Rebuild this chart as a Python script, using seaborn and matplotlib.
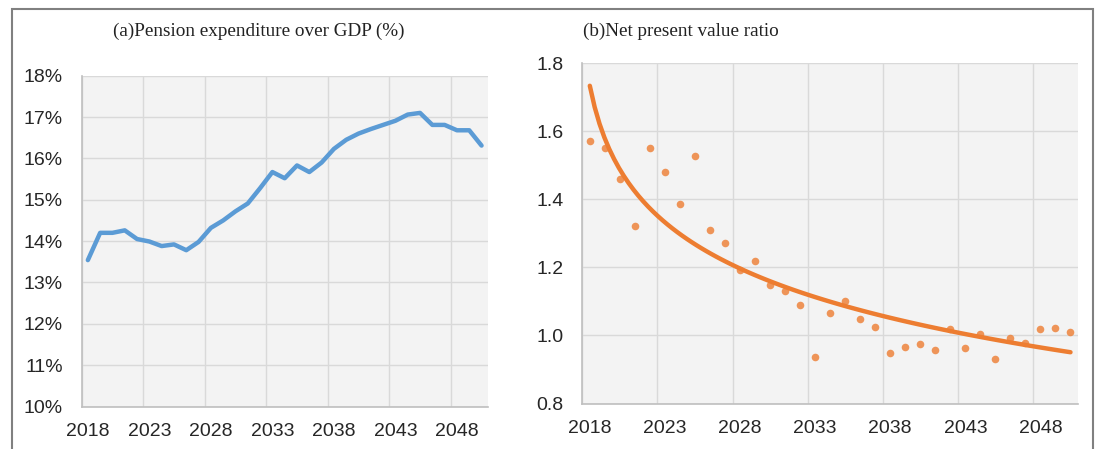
# Pension expenditure and NPV ratio, 2018-2050
import numpy as np
import pandas as pd
import matplotlib
matplotlib.use('Agg')
import matplotlib.pyplot as plt
import matplotlib.ticker as mtick
from matplotlib.patches import Rectangle
import seaborn as sns

# --- data ---
years = list(range(2018, 2051))
pension_pct = [13.54, 14.20, 14.20, 14.26, 14.05, 13.99, 13.88, 13.92, 13.78, 13.98,
               14.32, 14.50, 14.72, 14.91, 15.28, 15.67, 15.52, 15.83, 15.67, 15.90,
               16.23, 16.45, 16.60, 16.71, 16.81, 16.91, 17.06, 17.10, 16.81, 16.81,
               16.68, 16.68, 16.31]
npv_ratio = [1.571, 1.552, 1.459, 1.321, 1.552, 1.481, 1.387, 1.527, 1.309, 1.272,
             1.191, 1.220, 1.147, 1.131, 1.089, 0.938, 1.067, 1.100, 1.047, 1.024,
             0.947, 0.967, 0.974, 0.956, 1.020, 0.963, 1.003, 0.931, 0.994, 0.978,
             1.019, 1.021, 1.009]
label_years = [2018, 2023, 2028, 2033, 2038, 2043, 2048]

df = pd.DataFrame({'year': years, 'pension': np.array(pension_pct) / 100, 'npv': npv_ratio})
df['pos'] = df['year'] - 2017  # category position 1..33

sns.set_style('white')
plt.rcParams['font.family'] = ['Liberation Sans', 'DejaVu Sans']

BLUE = '#5B9BD5'
ORANGE = '#ED7D31'
GRID = '#D9D9D9'
AXIS = '#BFBFBF'

fig = plt.figure(figsize=(10.96, 4.49), dpi=100)
W, H = 1096, 449


def add_axes(x0, x1, ytop, ybot):
    return fig.add_axes([x0 / W, 1 - ybot / H, (x1 - x0) / W, (ybot - ytop) / H])


def style(ax):
    ax.set_facecolor('#F3F3F3')
    for s in ['top', 'right']:
        ax.spines[s].set_visible(False)
    for s in ['left', 'bottom']:
        ax.spines[s].set_color(AXIS)
        ax.spines[s].set_linewidth(1.2)
    ax.set_xlim(0.5, len(years) + 0.5)
    # gridlines / tick marks on category boundaries, labels at category centres
    ax.set_xticks([y - 2017 - 0.5 for y in label_years])
    ax.set_xticklabels([])
    ax.set_xticks([y - 2017 for y in label_years], minor=True)
    ax.set_xticklabels([str(y) for y in label_years], minor=True)
    ax.tick_params(axis='x', which='major', length=5, color=AXIS, direction='out')
    ax.tick_params(axis='x', which='minor', length=0, labelsize=14, pad=12)
    ax.tick_params(axis='y', length=5, color=AXIS, direction='out', labelsize=14, pad=8.5)
    ax.grid(True, which='major', color=GRID, lw=1)
    ax.set_axisbelow(True)
    ax.set_xlabel('')
    ax.set_ylabel('')


# (a) pension expenditure
ax1 = add_axes(81.7, 487.7, 75.7, 406.5)
sns.lineplot(data=df, x='pos', y='pension', color=BLUE, lw=3.2, ax=ax1)
ax1.set_ylim(0.10, 0.18)
ax1.set_yticks(np.arange(0.10, 0.181, 0.01))
ax1.yaxis.set_major_formatter(mtick.PercentFormatter(1.0, decimals=0))
style(ax1)

# (b) net present value ratio with log trend
ax2 = add_axes(582.3, 1078, 63.3, 403.5)
sns.regplot(data=df, x='pos', y='npv', logx=True, ci=None, ax=ax2, color=ORANGE,
            scatter_kws=dict(s=30, linewidths=0), line_kws=dict(lw=3.2))
ax2.set_ylim(0.8, 1.8)
ax2.set_yticks(np.arange(0.8, 1.81, 0.2))
ax2.yaxis.set_major_formatter(mtick.FormatStrFormatter('%.1f'))
style(ax2)

serif = ['Liberation Serif', 'DejaVu Serif']
fig.text(112.7 / W, 1 - 31.7 / H, '(a)Pension expenditure over GDP (%)',
         family=serif, fontsize=13.8, ha='left', va='center', color='#222222')
fig.text(583.3 / W, 1 - 31.7 / H, '(b)Net present value ratio',
         family=serif, fontsize=13.8, ha='left', va='center', color='#222222')

# outer frame
fig.add_artist(Rectangle((11.5 / W, -0.1), (1093 - 11.5) / W, 1.1 - 9 / H,
                         transform=fig.transFigure, fill=False, ec='#808080', lw=1.5))

fig.savefig('out.png', dpi=100)
